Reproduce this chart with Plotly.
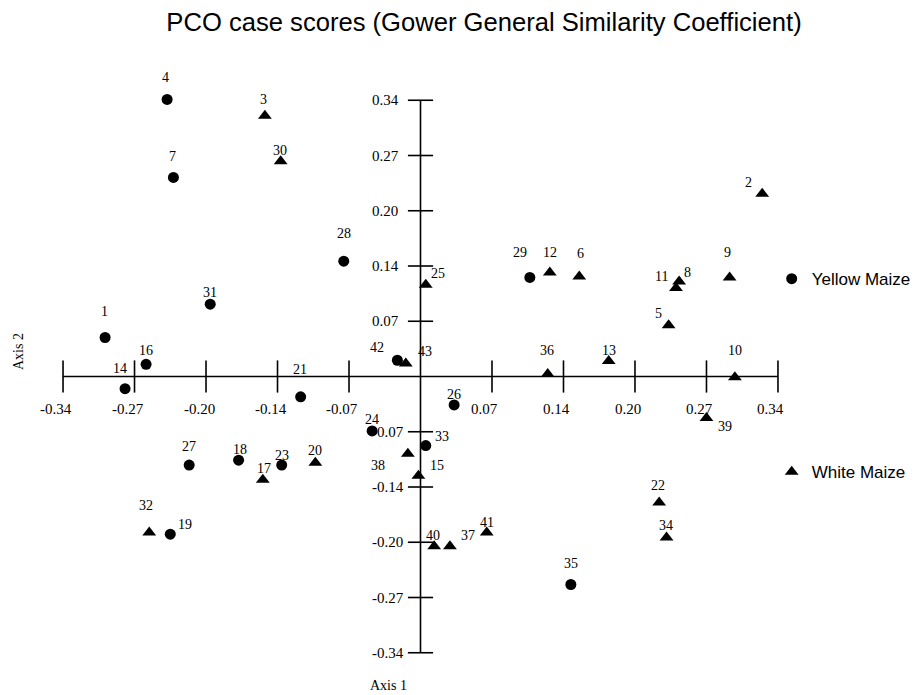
import plotly.graph_objects as go

# ---- data ----
yellow_ids = [4, 7, 28, 31, 1, 16, 42, 14, 21, 26, 24, 33, 27, 18, 23, 19, 35, 29]
yellow_x = [-0.241, -0.235, -0.073, -0.200, -0.300, -0.261, -0.022, -0.281, -0.114, 0.032,
            -0.046, 0.005, -0.220, -0.173, -0.132, -0.238, 0.143, 0.104]
yellow_y = [0.341, 0.245, 0.142, 0.089, 0.048, 0.015, 0.020, -0.015, -0.025, -0.035,
            -0.067, -0.085, -0.109, -0.103, -0.109, -0.194, -0.256, 0.122]

white_ids = [3, 30, 25, 43, 12, 6, 11, 8, 9, 2, 5, 36, 13, 10, 39, 22, 34, 41, 40, 37, 15, 38, 20, 17, 32]
white_x = [-0.148, -0.133, 0.005, -0.014, 0.123, 0.151, 0.243, 0.246, 0.294, 0.325, 0.236, 0.121,
           0.179, 0.299, 0.272, 0.227, 0.234, 0.063, 0.013, 0.028, -0.002, -0.012, -0.100, -0.150, -0.258]
white_y = [0.321, 0.265, 0.113, 0.016, 0.128, 0.123, 0.109, 0.117, 0.122, 0.225, 0.063, 0.003,
           0.019, -0.001, -0.051, -0.155, -0.198, -0.192, -0.209, -0.209, -0.122, -0.095, -0.106, -0.127, -0.192]

tick_vals = [-0.34, -0.272, -0.204, -0.136, -0.068, 0.068, 0.136, 0.204, 0.272, 0.34]
tick_text = ["-0.34", "-0.27", "-0.20", "-0.14", "-0.07", "0.07", "0.14", "0.20", "0.27", "0.34"]

# ---- label offsets (pixels: dx right, dy up) ----
label_offset = {
    4: (-2, 22), 7: (-1, 21), 28: (0, 28), 31: (0, 12), 1: (-1, 26), 16: (0, 14), 42: (-20, 13),
    14: (-5, 20), 21: (-1, 27), 26: (0, 10), 24: (0, 11), 33: (16, 9), 27: (0, 19), 18: (1, 11),
    23: (0, 10), 19: (15, 10), 35: (0, 21), 29: (-10, 25),
    3: (-1, 16), 30: (-1, 11), 25: (12, 11), 43: (19, 12), 12: (0, 20), 6: (1, 23), 11: (-14, 11),
    8: (8, 9), 9: (-2, 25), 2: (-14, 11), 5: (-10, 12), 36: (-1, 24), 13: (0, 11), 10: (0, 27),
    39: (19, -9), 22: (-1, 17), 34: (-1, 12), 41: (0, 10), 40: (-1, 11), 37: (18, 11), 15: (19, 10),
    38: (-30, -12), 20: (0, 12), 17: (1, 11), 32: (-3, 27),
}

SERIF = "Liberation Serif, Times New Roman, serif"
SANS = "Liberation Sans, Arial, sans-serif"

# ---- layout geometry ----
W, H = 918, 695
ML, MR, MT, MB = 34, 127, 76, 34
PW, PH = W - ML - MR, H - MT - MB
OFF = 8  # page body margin


def px_x(sx):  # screen x -> paper x
    return (sx - OFF - ML) / PW


def px_y(sy):  # screen y -> paper y
    return (OFF + MT + PH - sy) / PH


fig = go.Figure()

lo, hi = min(tick_vals), max(tick_vals)
# axis lines crossing at origin
fig.add_trace(go.Scatter(x=[lo, hi], y=[0, 0], mode="lines", showlegend=False, hoverinfo="skip",
                         line=dict(color="black", width=1.6), cliponaxis=False))
fig.add_trace(go.Scatter(x=[0, 0], y=[lo, hi], mode="lines", showlegend=False, hoverinfo="skip",
                         line=dict(color="black", width=1.6), cliponaxis=False))
# tick marks
fig.add_trace(go.Scatter(
    x=tick_vals, y=[0] * len(tick_vals), mode="markers", showlegend=False, hoverinfo="skip",
    marker=dict(symbol="line-ns", size=23, line=dict(color="black", width=1.6)), cliponaxis=False))
fig.add_trace(go.Scatter(
    x=[0] * len(tick_vals), y=tick_vals, mode="markers", showlegend=False, hoverinfo="skip",
    marker=dict(symbol="line-ew", size=18, line=dict(color="black", width=1.6)), cliponaxis=False))

fig.add_trace(go.Scatter(
    x=yellow_x, y=yellow_y, mode="markers", name="Yellow Maize", legendgroup="y",
    marker=dict(symbol="circle", size=11, color="black"), cliponaxis=False))
fig.add_trace(go.Scatter(
    x=white_x, y=white_y, mode="markers", name="White Maize", legendgroup="w",
    marker=dict(symbol="triangle-up", size=12, color="black"), cliponaxis=False))

annotations = []
for ids, xs, ys in ((yellow_ids, yellow_x, yellow_y), (white_ids, white_x, white_y)):
    for i, xv, yv in zip(ids, xs, ys):
        dx, dy = label_offset[i]
        annotations.append(dict(x=xv, y=yv, text=str(i), showarrow=False, xshift=dx, yshift=dy,
                                font=dict(family=SERIF, size=14, color="black")))

for v, t in zip(tick_vals, tick_text):
    annotations.append(dict(x=v, y=0, text=t, showarrow=False, xshift=-7, yshift=-32,
                            font=dict(family=SERIF, size=15, color="black")))
    annotations.append(dict(x=0, y=v, text=t, showarrow=False, xanchor="left", xshift=-51,
                            font=dict(family=SERIF, size=15, color="black")))

annotations.append(dict(xref="paper", yref="paper", x=px_x(388), y=px_y(685), text="Axis 1",
                        showarrow=False, xanchor="center", yanchor="middle",
                        font=dict(family=SERIF, size=14, color="black")))
annotations.append(dict(xref="paper", yref="paper", x=px_x(18), y=px_y(352), text="Axis 2",
                        showarrow=False, xanchor="center", yanchor="middle", textangle=-90,
                        font=dict(family=SERIF, size=14, color="black")))

fig.update_layout(
    width=W, height=H,
    margin=dict(l=ML, r=MR, t=MT, b=MB, autoexpand=False),
    paper_bgcolor="white", plot_bgcolor="white",
    title=dict(text="PCO case scores (Gower General Similarity Coefficient)",
               x=(484 - OFF) / W, xref="container", xanchor="center",
               y=1 - (22 - OFF) / H, yref="container", yanchor="middle",
               font=dict(family=SANS, size=25.6, color="black")),
    xaxis=dict(range=[-0.36, 0.36], showgrid=False, showticklabels=False, ticks="", showline=False,
               zeroline=False, fixedrange=True),
    yaxis=dict(range=[-0.36, 0.36], showgrid=False, showticklabels=False, ticks="", showline=False,
               zeroline=False, fixedrange=True),
    legend=dict(x=px_x(771.7), y=px_y(261.1), xanchor="left", yanchor="top", tracegroupgap=168,
                font=dict(family=SANS, size=17, color="black"), bgcolor="rgba(0,0,0,0)"),
    annotations=annotations,
    showlegend=True,
)

fig.write_html("out.html")
